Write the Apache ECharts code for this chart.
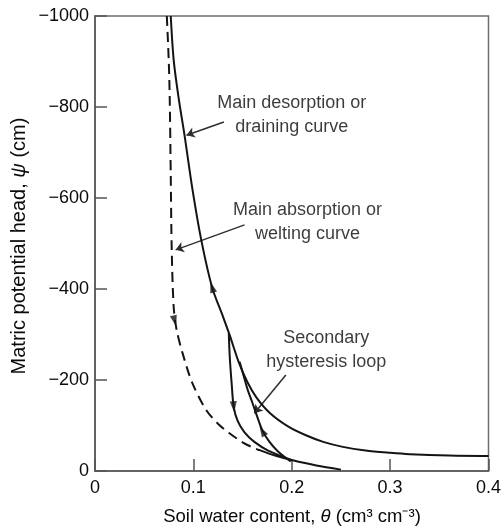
<!DOCTYPE html>
<html>
<head>
<meta charset="utf-8">
<script src="https://cdn.jsdelivr.net/npm/echarts@6/dist/echarts.min.js"></script>
<style>
html,body{margin:0;padding:0;background:#fff;}
#chart{width:504px;height:527px;}
</style>
</head>
<body>
<div id="chart"></div>
<script>
// ---- Data (θ in cm3/cm3, ψ in cm) ----
const xTicks = [0, 0.1, 0.2, 0.3, 0.4];
const yTicks = [-1000, -800, -600, -400, -200, 0];

const desorptionCurve = [[0.077,-1000],[0.080,-903],[0.085,-820],[0.091,-738],[0.099,-620],[0.108,-508],[0.119,-404],[0.130,-340],[0.137,-298],[0.146,-240],[0.155,-195],[0.164,-162],[0.178,-127],[0.197,-97],[0.215,-78],[0.232,-64],[0.252,-53],[0.275,-45],[0.300,-40],[0.320,-37],[0.36,-34],[0.4,-33]];
const wettingDashed = [[0.073,-1000],[0.075,-900],[0.076,-815],[0.077,-650],[0.078,-486],[0.080,-360],[0.083,-310],[0.089,-259],[0.099,-193],[0.113,-134],[0.125,-104],[0.136,-84],[0.150,-63],[0.160,-52],[0.167,-46]];
const wettingTail = [[0.166,-47],[0.183,-34],[0.200,-24],[0.225,-12],[0.250,-3]];
const scanWetting = [[0.136,-303],[0.137,-250],[0.139,-190],[0.141,-141],[0.145,-110],[0.152,-85],[0.162,-64],[0.176,-45],[0.200,-24]];
const scanDrying = [[0.147,-240],[0.151,-210],[0.155,-180],[0.160,-150],[0.164,-125],[0.170,-90],[0.177,-65],[0.186,-43],[0.199,-21]];

// arrowheads on curves: [θ, ψ], and their directions (deg)
const arrowPoints = [[0.119,-404],[0.081,-330],[0.141,-141],[0.170,-88]];
const arrowAngles = [17, 194, 184, 30];

// annotations
const annotationTexts = ['Main desorption or\ndraining curve', 'Main absorption or\nwelting curve', 'Secondary\nhysteresis loop'];
const annotationAt = [[0.200,-782],[0.216,-547],[0.235,-266]];
const pointerFrom = [[0.131,-767],[0.152,-541],[0.194,-211]];
const pointerTo = [[0.093,-738],[0.082,-486],[0.162,-127]];

const FONT = '"Liberation Sans", Arial, Helvetica, sans-serif';
const TXT = '#0a0a0a';
const INK = '#141414';

const chart = echarts.init(document.getElementById('chart'), null, {renderer:'canvas'});

const lineSeries = (data, type) => ({
  type:'line', data, smooth:0.3, symbol:'none', silent:true,
  lineStyle:{color:INK, width:2, type: type || 'solid'}
});

chart.setOption({
  backgroundColor:'#fff',
  animation:false,
  grid:{left:95, right:14, top:16, bottom:56, show:true, borderColor:'#6e6e6e', borderWidth:1.5, backgroundColor:'transparent'},
  xAxis:{
    type:'value', min:xTicks[0], max:xTicks[xTicks.length-1], interval:0.1,
    axisLine:{show:true, lineStyle:{color:'#555', width:1.5}},
    axisTick:{show:true, inside:true, length:12, lineStyle:{color:'#555', width:1.5}},
    splitLine:{show:false},
    axisLabel:{color:TXT, fontSize:18, fontFamily:FONT, margin:8,
      formatter:v => v===0 ? '0' : v.toFixed(1)}
  },
  yAxis:{
    type:'value', min:yTicks[0], max:yTicks[yTicks.length-1], interval:200, inverse:true,
    axisLine:{show:true, lineStyle:{color:'#555', width:1.5}},
    axisTick:{show:true, inside:true, length:12, lineStyle:{color:'#555', width:1.5}},
    splitLine:{show:false},
    axisLabel:{color:TXT, fontSize:18, fontFamily:FONT, margin:6,
      formatter:v => String(v).replace('-', '\u2212')}
  },
  series:[
    lineSeries(desorptionCurve),
    lineSeries(wettingDashed, [10,6]),
    lineSeries(wettingTail),
    lineSeries(scanWetting),
    lineSeries(scanDrying),
    {
      type:'scatter', silent:true,
      data: arrowPoints.map((p,i)=>({value:p, symbolRotate:arrowAngles[i]})),
      symbol:'triangle', symbolSize:[7,11],
      itemStyle:{color:INK}
    },
    {
      type:'lines', coordinateSystem:'cartesian2d', silent:true,
      symbol:['none','arrow'], symbolSize:8,
      lineStyle:{color:'#2e2e2e', width:1.5, opacity:1},
      data: pointerFrom.map((p,i)=>({coords:[p, pointerTo[i]]}))
    },
    {
      type:'scatter', silent:true, symbolSize:0,
      data: annotationAt.map((p,i)=>({value:p, name:annotationTexts[i]})),
      label:{show:true, position:'inside', formatter:p=>p.name, color:TXT,
        fontSize:18, fontFamily:FONT, align:'center', verticalAlign:'middle', lineHeight:24,
        textBorderWidth:0}
    }
  ],
  graphic:[
    {type:'text', x:292, y:517, silent:true,
      style:{text:'Soil water content, {i|θ} (cm³ cm⁻³)', font:'18.5px '+FONT, fill:TXT, align:'center', verticalAlign:'middle',
        rich:{i:{fontStyle:'italic', fontSize:18.5, fontFamily:FONT, fill:TXT}}}},
    {type:'text', x:19, y:246, rotation:Math.PI/2, silent:true,
      style:{text:'Matric potential head, {i|ψ} (cm)', font:'20px '+FONT, fill:TXT, align:'center', verticalAlign:'middle',
        rich:{i:{fontStyle:'italic', fontSize:20, fontFamily:FONT, fill:TXT}}}}
  ]
});
</script>
</body>
</html>
